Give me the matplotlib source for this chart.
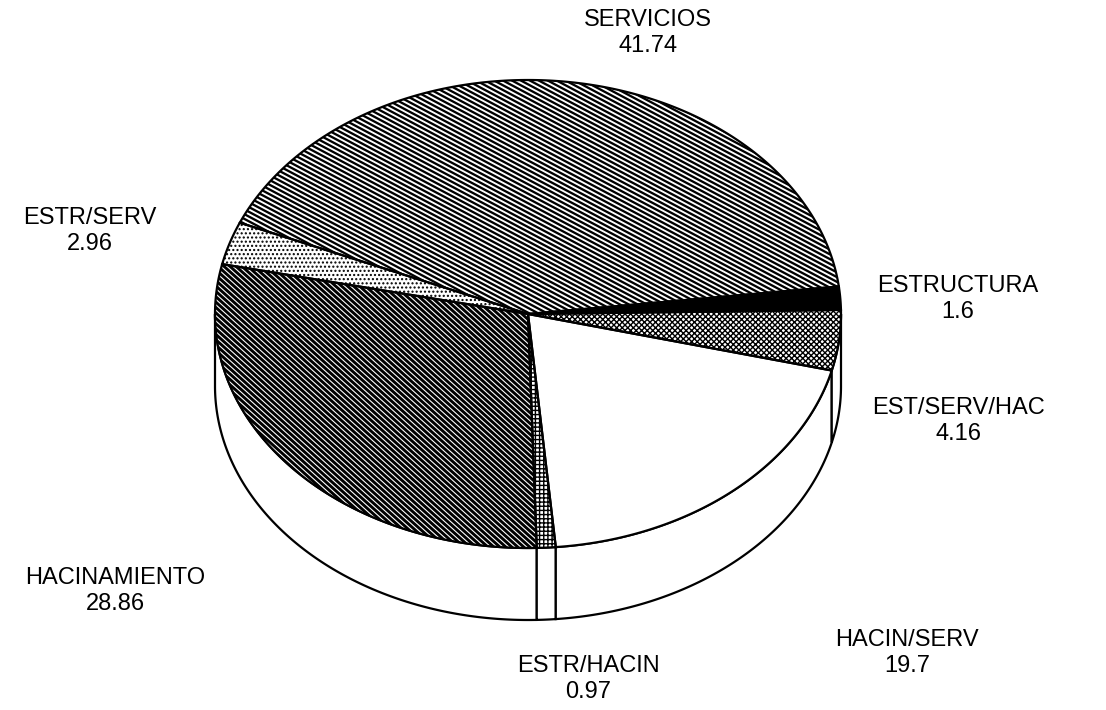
import numpy as np
import matplotlib
matplotlib.use("Agg")
import matplotlib.pyplot as plt
from matplotlib.patches import Polygon
from matplotlib.collections import LineCollection

categories = ["ESTRUCTURA", "SERVICIOS", "ESTR/SERV", "HACINAMIENTO",
              "ESTR/HACIN", "HACIN/SERV", "EST/SERV/HAC"]
values = [1.6, 41.74, 2.96, 28.86, 0.97, 19.7, 4.16]
value_labels = ["1.6", "41.74", "2.96", "28.86", "0.97", "19.7", "4.16"]

# layout (pixels, y down)
CX, CY, RX, RY, DEPTH = 528, 314, 313, 234, 72
START = 1.0
label_pos = [(958, 299), (648, 33), (90, 231), (115, 591),
             (588, 679), (907, 653), (958, 421)]

# per-slice fill: (kind, options)
styles = {
    "ESTRUCTURA": ("solid", {}),
    "SERVICIOS": ("lines", dict(angle=28, spacing=4.2, lw=2.3)),
    "ESTR/SERV": ("hatch", dict(hatch="....")),
    "HACINAMIENTO": ("lines", dict(angle=42, spacing=4.0, lw=2.9)),
    "ESTR/HACIN": ("hatch", dict(hatch="++++")),
    "HACIN/SERV": ("white", {}),
    "EST/SERV/HAC": ("hatch", dict(hatch="xxxxxx")),
}


def arc(a0, a1, dy=0.0, n=200):
    t = np.radians(np.linspace(a0, a1, n))
    return np.column_stack([CX + RX * np.cos(t), CY + dy - RY * np.sin(t)])


def stripes(ax, patch, angle, spacing, lw):
    a = np.radians(angle)
    d = np.array([np.cos(a), np.sin(a)])
    nrm = np.array([-np.sin(a), np.cos(a)])
    L = 900
    segs = []
    for off in np.arange(-L, L, spacing):
        p = np.array([CX, CY]) + off * nrm
        segs.append([p - L * d, p + L * d])
    lc = LineCollection(segs, colors="black", linewidths=lw * 0.72, zorder=3)
    lc.set_clip_path(patch)
    ax.add_collection(lc)


fig = plt.figure(figsize=(11.06, 7.10), dpi=100)
ax = fig.add_axes([0, 0, 1, 1])
ax.set_xlim(0, 1106)
ax.set_ylim(710, 0)
ax.axis("off")

total = sum(values)
bounds = START + 360 * np.concatenate([[0], np.cumsum(values)]) / total

# side wall (front half only)
for i in range(len(values)):
    a0, a1 = max(bounds[i], 180), min(bounds[i + 1], 360)
    if a1 <= a0:
        continue
    pts = np.vstack([arc(a0, a1), arc(a1, a0, DEPTH)])
    ax.add_patch(Polygon(pts, closed=True, facecolor="white",
                         edgecolor="black", lw=1.6, zorder=1))

# top faces
for i, name in enumerate(categories):
    pts = np.vstack([[CX, CY], arc(bounds[i], bounds[i + 1])])
    kind, opt = styles[name]
    if kind == "solid":
        fc, hatch = "black", None
    elif kind == "hatch":
        fc, hatch = "white", opt["hatch"]
    else:
        fc, hatch = "white", None
    face = Polygon(pts, closed=True, facecolor=fc, edgecolor="black",
                   lw=0, hatch=hatch, zorder=2)
    ax.add_patch(face)
    if kind == "lines":
        stripes(ax, face, opt["angle"], opt["spacing"], opt["lw"])
    ax.add_patch(Polygon(pts, closed=True, facecolor="none",
                         edgecolor="black", lw=1.6, zorder=4))

for name, val, (x, y) in zip(categories, value_labels, label_pos):
    ax.text(x, y, f"{name}\n{val}", ha="center", va="center",
            fontsize=17, family="Liberation Sans", linespacing=1.2,
            color="black")

fig.savefig("out.png", dpi=100)
